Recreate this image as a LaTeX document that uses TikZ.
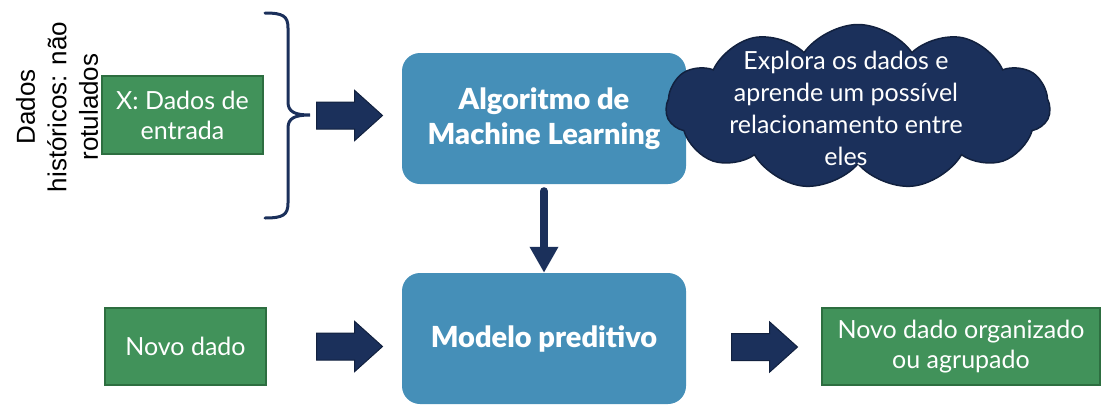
\documentclass[tikz,border=0pt]{standalone}
\usepackage{fontspec}
\setmainfont{Lato}
\newfontfamily\arialfont{Liberation Sans}
\newfontfamily\heavyfont{Lato Black}
\usetikzlibrary{shapes.symbols,shapes.arrows,arrows.meta}
\definecolor{boxgreen}{HTML}{41925A}
\definecolor{boxgreenline}{HTML}{2D6E40}
\definecolor{boxblue}{HTML}{458FB8}
\definecolor{navy}{HTML}{1B305B}
\definecolor{navyline}{HTML}{12213F}
\tikzset{
  greenbox/.style={draw=boxgreenline, line width=1.5pt, fill=boxgreen, text=white, inner sep=0pt, align=center, font=\fontsize{25}{30}\selectfont},
  bluebox/.style={fill=boxblue, rounded corners=18pt, text=white, align=center, inner sep=0pt, minimum width=284pt, minimum height=131pt, font=\heavyfont\fontsize{29}{35}\selectfont},
  blockarrow/.style={single arrow, fill=navy, draw=navyline, line width=1pt, single arrow head extend=11.5pt, single arrow tip angle=84, minimum height=66pt, inner xsep=0pt, inner ysep=13pt, anchor=west},
  bracestyle/.style={draw=navy, line width=3pt, line cap=round},
  downarrow/.style={navy, line width=8pt, line cap=round, -{Triangle[width=27pt,length=26pt]}}
}
\begin{document}
\begin{tikzpicture}[x=1pt,y=-1pt]
\useasboundingbox (0,0) rectangle (1104,405);
% vertical label
\node[rotate=90, align=center, inner sep=0pt, font=\arialfont\fontsize{26}{31.5}\selectfont] (hist) at (57,107) {Dados\\históricos: não\\rotulados};
% green boxes
\node[greenbox, minimum width=161pt, minimum height=78pt] (xin) at (182.5,115) {X: Dados de\\entrada};
\node[greenbox, minimum width=161pt, minimum height=77pt] (novo) at (185.5,346.5) {Novo dado};
\node[greenbox, minimum width=278pt, minimum height=77pt] (saida) at (961,346.5) {Novo dado organizado\\ou agrupado};
% brace
\draw[bracestyle] (265,13) .. controls (283,13) and (288,16) .. (288,28) -- (288,102)
  .. controls (288,112) and (295,115) .. (310,115)
  .. controls (295,115) and (288,118) .. (288,128) -- (288,203)
  .. controls (288,215) and (283,218) .. (265,218);
% blue boxes
\node[bluebox] (algo) at (544,118.5) {Algoritmo de\\Machine Learning};
\node[bluebox] (modelo) at (544,338.5) {Modelo preditivo};
% cloud
\node[cloud, cloud puffs=11, cloud puff arc=110, aspect=2.3, fill=navy, draw=navyline, line width=1.5pt, minimum width=384pt, minimum height=165pt, inner sep=0pt] (cloud) at (858,107) {};
\node[text=white, align=center, inner sep=0pt, font=\fontsize{25}{32}\selectfont] (cloudtext) at (846,108) {Explora os dados e\\aprende um possível\\relacionamento entre\\eles};
% block arrows
\node[blockarrow] (arrA) at (316,115.5) {};
\node[blockarrow] (arrB) at (316,346.5) {};
\node[blockarrow] (arrC) at (731,347) {};
% down arrow
\draw[downarrow] ([yshift=-7pt]algo.south) -- (modelo.north);
\end{tikzpicture}
\end{document}
